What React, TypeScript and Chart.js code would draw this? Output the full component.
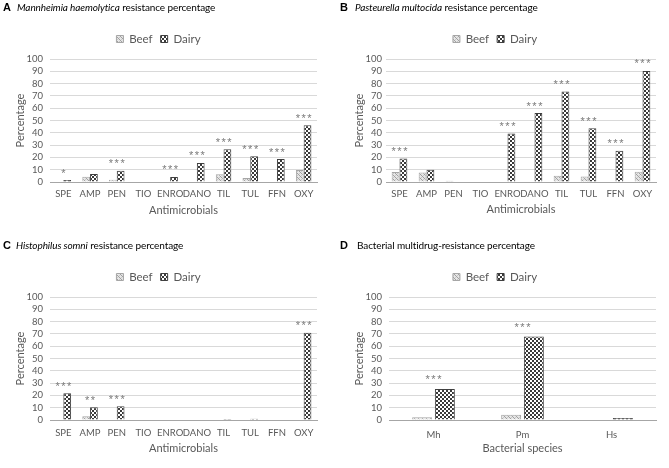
import React, { useEffect, useRef } from "react";
import { Chart, registerables } from "chart.js";

Chart.register(...registerables);

const antimicrobials = ["SPE", "AMP", "PEN", "TIO", "ENRO", "DANO", "TIL", "TUL", "FFN", "OXY"];
const species = ["Mh", "Pm", "Hs"];
const seriesNames = ["Beef", "Dairy"];

const mhBeef = [0, 4.3, 1.9, 0, 0, 0, 6.2, 3.3, 0, 9.8];
const mhDairy = [1.6, 6.5, 9.2, 0, 4.1, 15.5, 26.6, 20.9, 18.7, 46.1];
const mhSig = ["*", "", "***", "", "***", "***", "***", "***", "***", "***"];

const pmBeef = [8.1, 7.8, 1, 0.5, 0, 0.5, 5.1, 4.4, 0, 8.4];
const pmDairy = [19.1, 10, 0, 0, 39.4, 56, 73.5, 43.8, 25.4, 90.3];
const pmSig = ["***", "", "", "", "***", "***", "***", "***", "***", "***"];

const hsBeef = [0, 3, 0, 0, 0, 0, 0, 0, 0, 0];
const hsDairy = [21.7, 10.3, 11.1, 0, 0, 0, 0.8, 1.1, 0, 71];
const hsSig = ["***", "**", "***", "", "", "", "", "", "", "***"];

const mdrBeef = [2.2, 4.3, 0];
const mdrDairy = [25.3, 67.9, 1.6];
const mdrSig = ["***", "***", ""];

const yMin = 0;
const yMax = 100;
const yStep = 10;

const FONT = "Lato, 'Open Sans', sans-serif";
const GRAY = "#595959";

function makePattern(kind: "beef" | "dairy"): CanvasPattern {
  const c = document.createElement("canvas");
  c.width = 4;
  c.height = 4;
  const g = c.getContext("2d")!;
  if (kind === "dairy") {
    g.fillStyle = "#ffffff";
    g.fillRect(0, 0, 4, 4);
    g.fillStyle = "#3a3a3a";
    g.fillRect(0, 0, 2, 2);
    g.fillRect(2, 2, 2, 2);
  } else {
    g.fillStyle = "#e6e6e6";
    g.fillRect(0, 0, 4, 4);
    g.fillStyle = "#a0a0a0";
    g.fillRect(0, 0, 1, 1);
    g.fillRect(1, 1, 1, 1);
    g.fillRect(2, 2, 1, 1);
    g.fillRect(3, 3, 1, 1);
    g.fillStyle = "#c8c8c8";
    g.fillRect(3, 1, 1, 1);
    g.fillRect(1, 3, 1, 1);
  }
  return g.createPattern(c, "repeat")!;
}

const sigPlugin = {
  id: "sig",
  afterDatasetsDraw(chart: any, _args: any, opts: any) {
    const { ctx, scales } = chart;
    const labels: string[] = opts.labels || [];
    const d0 = chart.data.datasets[0].data as number[];
    const d1 = chart.data.datasets[1].data as number[];
    ctx.save();
    ctx.font = `11px 'Liberation Sans', Arial, sans-serif`;
    ctx.fillStyle = "#7a7a7a";
    ctx.textAlign = "center";
    ctx.textBaseline = "middle";
    try {
      (ctx as any).letterSpacing = "1.5px";
    } catch (e) {}
    labels.forEach((s, i) => {
      if (!s) return;
      const v = Math.max(d0[i], d1[i]);
      const x = scales.x.getPixelForValue(i) + 0.75;
      const y = scales.y.getPixelForValue(v) - opts.offset;
      ctx.fillText(s, x, y + 2.5);
    });
    ctx.restore();
  },
};

type Geo = {
  W: number;
  H: number;
  left: number;
  right: number;
  top: number;
  bottom: number;
  yLabelEnd: number;
  yTitleX: number;
  xLabelY: number;
  xTitleY: number;
  legendY: number;
};

type PanelProps = {
  labels: string[];
  beef: number[];
  dairy: number[];
  sig: string[];
  xTitle: string;
  geo: Geo;
  catPct: number;
  barPct: number;
  sigOffset: number;
};

function Panel({ labels, beef, dairy, sig, xTitle, geo, catPct, barPct, sigOffset }: PanelProps) {
  const ref = useRef<HTMLCanvasElement>(null);
  useEffect(() => {
    if (!ref.current) return;
    const beefPat = makePattern("beef");
    const dairyPat = makePattern("dairy");
    const legendFont = 11.5;
    const legendPad = 8;
    const itemH = legendFont;
    const legendH = itemH + legendPad + 10;
    const padTop = geo.legendY - legendPad - itemH / 2;
    const subH = geo.top - padTop - legendH;
    const titleSize = 11;
    const titleLH = titleSize * 1.2;
    const tickSize = 9.5;
    const tickLH = tickSize * 1.2;
    const chart = new Chart(ref.current, {
      type: "bar",
      data: {
        labels,
        datasets: [
          {
            label: seriesNames[0],
            data: beef,
            backgroundColor: beefPat as any,
            borderColor: "#a6a6a6",
            borderWidth: 1,
            categoryPercentage: catPct,
            barPercentage: barPct,
          },
          {
            label: seriesNames[1],
            data: dairy,
            backgroundColor: dairyPat as any,
            borderColor: "#404040",
            borderWidth: 1,
            categoryPercentage: catPct,
            barPercentage: barPct,
          },
        ],
      },
      options: {
        animation: false,
        responsive: false,
        maintainAspectRatio: false,
        layout: {
          padding: { left: 0, right: geo.W - geo.right, top: padTop, bottom: 0 },
        },
        plugins: {
          legend: {
            position: "top",
            labels: {
              boxWidth: 7,
              boxHeight: 7,
              padding: legendPad,
              color: GRAY,
              font: { family: FONT, size: legendFont },
            },
          },
          subtitle: {
            display: true,
            text: "",
            weight: 500,
            font: { size: 1 },
            padding: { top: 0, bottom: Math.max(0, subH - 1.2) },
          } as any,
          tooltip: { enabled: false },
          sig: { labels: sig, offset: sigOffset },
        } as any,
        scales: {
          x: {
            grid: { display: false, drawTicks: false },
            border: { display: true, color: "#a6a6a6", width: 1 },
            ticks: {
              color: GRAY,
              font: { family: FONT, size: tickSize },
              padding: geo.xLabelY - geo.bottom - tickLH / 2,
              maxRotation: 0,
              autoSkip: false,
            },
            title: {
              display: true,
              text: xTitle,
              color: GRAY,
              font: { family: FONT, size: titleSize },
              padding: { top: 0, bottom: geo.H - geo.xTitleY - titleLH / 2 },
            },
            afterFit: (s: any) => {
              s.height = geo.H - geo.bottom;
            },
          },
          y: {
            min: yMin,
            max: yMax,
            grid: { color: "#d9d9d9", drawTicks: false, lineWidth: 1 },
            border: { display: false },
            ticks: {
              stepSize: yStep,
              autoSkip: false,
              color: GRAY,
              font: { family: FONT, size: tickSize },
              padding: geo.left - geo.yLabelEnd,
            },
            title: {
              display: true,
              text: "Percentage",
              color: GRAY,
              font: { family: FONT, size: titleSize },
              padding: { top: geo.yTitleX - titleLH / 2, bottom: 0 },
            },
            afterFit: (s: any) => {
              s.width = geo.left;
            },
          },
        },
      } as any,
      plugins: [sigPlugin as any],
    });
    return () => chart.destroy();
  }, []);
  return <canvas ref={ref} width={geo.W} height={geo.H} style={{ display: "block", width: geo.W, height: geo.H }} />;
}

const titleStyle: React.CSSProperties = {
  position: "absolute",
  fontFamily: FONT,
  fontSize: 10,
  letterSpacing: "-0.1px",
  color: "#000",
  whiteSpace: "nowrap",
  lineHeight: "12px",
};
const letterStyle: React.CSSProperties = {
  fontFamily: "'Liberation Sans', Arial, sans-serif",
  fontWeight: "bold",
  fontSize: 11,
  letterSpacing: 0,
  display: "inline-block",
};

export default function App() {
  const geoA: Geo = { W: 334, H: 234, left: 50, right: 317, top: 59, bottom: 182, yLabelEnd: 43, yTitleX: 20, xLabelY: 194, xTitleY: 210, legendY: 39 };
  const geoB: Geo = { W: 335, H: 234, left: 52, right: 322, top: 59, bottom: 182, yLabelEnd: 48, yTitleX: 25, xLabelY: 194, xTitleY: 209, legendY: 39 };
  const geoC: Geo = { W: 334, H: 234, left: 50, right: 317, top: 63, bottom: 186, yLabelEnd: 43, yTitleX: 20, xLabelY: 199, xTitleY: 214, legendY: 43 };
  const geoD: Geo = { W: 335, H: 234, left: 55, right: 322, top: 63, bottom: 186, yLabelEnd: 48, yTitleX: 25, xLabelY: 201, xTitleY: 214, legendY: 43 };
  return (
    <div style={{ position: "absolute", left: 0, top: 0, width: 669, height: 468, background: "#fff", overflow: "hidden" }}>
      <div style={{ position: "absolute", left: 0, top: 0 }}>
        <Panel labels={antimicrobials} beef={mhBeef} dairy={mhDairy} sig={mhSig} xTitle="Antimicrobials" geo={geoA} catPct={0.58} barPct={1} sigOffset={9} />
      </div>
      <div style={{ position: "absolute", left: 334, top: 0 }}>
        <Panel labels={antimicrobials} beef={pmBeef} dairy={pmDairy} sig={pmSig} xTitle="Antimicrobials" geo={geoB} catPct={0.58} barPct={1} sigOffset={9} />
      </div>
      <div style={{ position: "absolute", left: 0, top: 234 }}>
        <Panel labels={antimicrobials} beef={hsBeef} dairy={hsDairy} sig={hsSig} xTitle="Antimicrobials" geo={geoC} catPct={0.58} barPct={1} sigOffset={9} />
      </div>
      <div style={{ position: "absolute", left: 334, top: 234 }}>
        <Panel labels={species} beef={mdrBeef} dairy={mdrDairy} sig={mdrSig} xTitle="Bacterial species" geo={geoD} catPct={0.51} barPct={0.88} sigOffset={11.5} />
      </div>
      <div style={{ ...titleStyle, left: 3, top: 1 }}>
        <span style={{ ...letterStyle, width: 14 }}>A</span>
        <i>Mannheimia haemolytica</i> resistance percentage
      </div>
      <div style={{ ...titleStyle, left: 340, top: 1 }}>
        <span style={{ ...letterStyle, width: 15 }}>B</span>
        <i>Pasteurella multocida</i> resistance percentage
      </div>
      <div style={{ ...titleStyle, left: 3, top: 239 }}>
        <span style={{ ...letterStyle, width: 13 }}>C</span>
        <i>Histophilus somni</i> resistance percentage
      </div>
      <div style={{ ...titleStyle, left: 340, top: 239 }}>
        <span style={{ ...letterStyle, width: 17 }}>D</span>
        Bacterial multidrug-resistance percentage
      </div>
    </div>
  );
}
